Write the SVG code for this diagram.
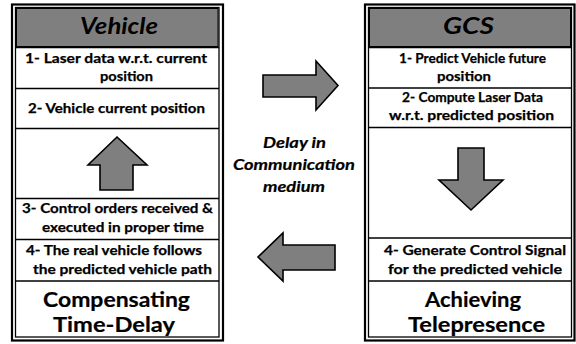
<svg xmlns="http://www.w3.org/2000/svg" width="576" height="344" viewBox="0 0 576 344">
<style>
.outer{fill:none;stroke:#000;stroke-width:2.2}
.inner{fill:#fff;stroke:#000;stroke-width:1.3}
.hdr{fill:#7f7f7f;stroke:#000;stroke-width:1}
.sep{stroke:#000;stroke-width:1.3}
.t{font-family:Lato,"Open Sans",sans-serif;font-weight:bold;font-size:13.5px;fill:#000;stroke:#000;stroke-width:0.25}
.big{font-family:Lato,"Open Sans",sans-serif;font-weight:bold;font-size:21px;fill:#000;stroke:#000;stroke-width:0.2}
.h{font-family:Lato,"Open Sans",sans-serif;font-weight:bold;font-style:italic;font-size:23px;fill:#000}
.mid{font-family:Lato,"Open Sans",sans-serif;font-weight:bold;font-style:italic;font-size:15px;fill:#000;stroke:#000;stroke-width:0.2}
.arr{fill:#7f7f7f;stroke:#000;stroke-width:1.6;stroke-linejoin:miter}
</style>
<rect width="576" height="344" fill="#fff"/>
<g id="vehicle">
<rect class="outer" x="12" y="4.5" width="211" height="336"/>
<rect class="inner" x="15.5" y="7.5" width="203.5" height="329.5"/>
<rect class="hdr" x="16.5" y="8.5" width="201.5" height="38"/>
<text class="h" x="80" y="34" textLength="78" lengthAdjust="spacingAndGlyphs">Vehicle</text>
<line class="sep" x1="15.5" y1="47.5" x2="219" y2="47.5"/>
<line class="sep" x1="15.5" y1="88.5" x2="219" y2="88.5"/>
<line class="sep" x1="15.5" y1="128.5" x2="219" y2="128.5"/>
<line class="sep" x1="15.5" y1="198.5" x2="219" y2="198.5"/>
<line class="sep" x1="15.5" y1="239.5" x2="219" y2="239.5"/>
<line class="sep" x1="15.5" y1="281" x2="219" y2="281"/>
<text class="t" x="25" y="63" textLength="182" lengthAdjust="spacingAndGlyphs">1- Laser data w.r.t. current</text>
<text class="t" x="100" y="81" textLength="53" lengthAdjust="spacingAndGlyphs">position</text>
<text class="t" x="28" y="113" textLength="177" lengthAdjust="spacingAndGlyphs">2- Vehicle current position</text>
<text class="t" x="22" y="213" textLength="191" lengthAdjust="spacingAndGlyphs">3- Control orders received &amp;</text>
<text class="t" x="42" y="232" textLength="162" lengthAdjust="spacingAndGlyphs">executed in proper time</text>
<text class="t" x="26" y="255" textLength="176" lengthAdjust="spacingAndGlyphs">4- The real vehicle follows</text>
<text class="t" x="33" y="274" textLength="179" lengthAdjust="spacingAndGlyphs">the predicted vehicle path</text>
<text class="big" x="43" y="307" textLength="147" lengthAdjust="spacingAndGlyphs">Compensating</text>
<text class="big" x="53" y="332" textLength="122" lengthAdjust="spacingAndGlyphs">Time-Delay</text>
</g>
<g id="gcs">
<rect class="outer" x="365" y="4.5" width="209.5" height="336"/>
<rect class="inner" x="368.5" y="7.5" width="203" height="329.5"/>
<rect class="hdr" x="369.5" y="8.5" width="201" height="38"/>
<text class="h" x="443" y="34" textLength="51" lengthAdjust="spacingAndGlyphs">GCS</text>
<line class="sep" x1="368.5" y1="47.5" x2="571.5" y2="47.5"/>
<line class="sep" x1="368.5" y1="88" x2="571.5" y2="88"/>
<line class="sep" x1="368.5" y1="127.5" x2="571.5" y2="127.5"/>
<line class="sep" x1="368.5" y1="238" x2="571.5" y2="238"/>
<line class="sep" x1="368.5" y1="281" x2="571.5" y2="281"/>
<text class="t" x="399" y="63" textLength="147" lengthAdjust="spacingAndGlyphs">1- Predict Vehicle future</text>
<text class="t" x="437" y="81" textLength="54" lengthAdjust="spacingAndGlyphs">position</text>
<text class="t" x="402" y="102" textLength="141" lengthAdjust="spacingAndGlyphs">2- Compute Laser Data</text>
<text class="t" x="389" y="120" textLength="165" lengthAdjust="spacingAndGlyphs">w.r.t. predicted position</text>
<text class="t" x="384" y="255" textLength="182" lengthAdjust="spacingAndGlyphs">4- Generate Control Signal</text>
<text class="t" x="388" y="274" textLength="174" lengthAdjust="spacingAndGlyphs">for the predicted vehicle</text>
<text class="big" x="425" y="307" textLength="96" lengthAdjust="spacingAndGlyphs">Achieving</text>
<text class="big" x="408" y="332" textLength="137" lengthAdjust="spacingAndGlyphs">Telepresence</text>
</g>
<g id="delay">
<text class="mid" x="263" y="148" textLength="63" lengthAdjust="spacingAndGlyphs">Delay in</text>
<text class="mid" x="233" y="170" textLength="122" lengthAdjust="spacingAndGlyphs">Communication</text>
<text class="mid" x="263" y="192" textLength="62" lengthAdjust="spacingAndGlyphs">medium</text>
</g>
<g id="connectors">
<polygon class="arr" points="117,137 147,165 133,165 133,190 100,190 100,165 88,165"/>
<polygon class="arr" points="458,148 484,148 484,180 503,180 471,210 439,180 458,180"/>
<polygon class="arr" points="263,75 316,75 316,61 338,85.5 316,110 316,97 263,97"/>
<polygon class="arr" points="335,245 283,245 283,233 258,257 283,281 283,270 335,270"/>
</g>
</svg>
